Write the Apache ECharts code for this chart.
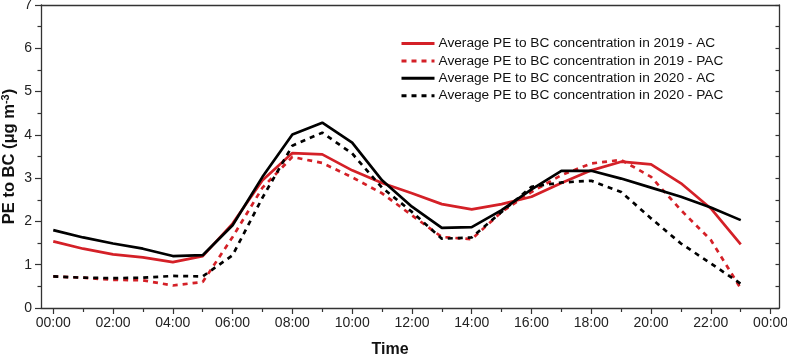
<!DOCTYPE html>
<html>
<head>
<meta charset="utf-8">
<script src="https://cdn.jsdelivr.net/npm/echarts@6/dist/echarts.min.js"></script>
<style>
  html, body { margin: 0; padding: 0; background: #fff; }
  #chart { width: 787px; height: 355px; }
</style>
</head>
<body>
<div id="chart"></div>
<script>
// hours of the day (00:00 .. 23:00)
const hours = [0, 1, 2, 3, 4, 5, 6, 7, 8, 9, 10, 11, 12, 13, 14, 15, 16, 17, 18, 19, 20, 21, 22, 23]
const majorTicks = [0, 2, 4, 6, 8, 10, 12, 14, 16, 18, 20, 22, 24]
const minorTicks = [1, 3, 5, 7, 9, 11, 13, 15, 17, 19, 21, 23]

const ac2019 = [1.54, 1.37, 1.24, 1.17, 1.06, 1.20, 1.95, 2.95, 3.58, 3.55, 3.18, 2.89, 2.65, 2.40, 2.28, 2.40, 2.57, 2.89, 3.18, 3.38, 3.32, 2.88, 2.30, 1.47]
const pac2019 = [0.73, 0.70, 0.65, 0.64, 0.52, 0.60, 1.64, 2.78, 3.49, 3.35, 3.02, 2.65, 2.14, 1.64, 1.59, 2.22, 2.68, 3.07, 3.34, 3.42, 3.03, 2.26, 1.57, 0.45]
const ac2020 = [1.80, 1.63, 1.49, 1.37, 1.20, 1.22, 1.91, 3.03, 4.01, 4.28, 3.82, 2.95, 2.34, 1.85, 1.87, 2.26, 2.74, 3.17, 3.17, 2.99, 2.78, 2.57, 2.32, 2.03]
const pac2020 = [0.73, 0.70, 0.69, 0.70, 0.74, 0.73, 1.22, 2.55, 3.75, 4.05, 3.57, 2.78, 2.22, 1.60, 1.63, 2.22, 2.80, 2.90, 2.94, 2.68, 2.07, 1.49, 1.03, 0.56]

const names = [
  "Average PE to BC concentration in 2019 - AC",
  "Average PE to BC concentration in 2019 - PAC",
  "Average PE to BC concentration in 2020 - AC",
  "Average PE to BC concentration in 2020 - PAC",
]

const RED = "#d42027"
const AXIS = "#333"
const FONT = "Liberation Sans"
const X_MIN = -0.41
const X_MAX = 24.28

const pairs = (vals) => hours.map((h, i) => [h, vals[i]])

const makeSeries = (name, vals, color, dashed) => ({
  name,
  type: "line",
  data: pairs(vals),
  symbol: "none",
  showSymbol: false,
  xAxisIndex: 0,
  yAxisIndex: 0,
  lineStyle: {
    color,
    width: 2.7,
    type: dashed ? [5, 5] : "solid",
  },
  itemStyle: { color },
})

const chart = echarts.init(document.getElementById("chart"))

const option = {
  backgroundColor: "#fff",
  animation: false,
  textStyle: { fontFamily: FONT },
  legend: {
    orient: "vertical",
    left: 395,
    top: 30,
    itemWidth: 33,
    itemHeight: 10,
    itemGap: 0.4,
    data: names,
    itemStyle: { opacity: 0 },
    lineStyle: { width: 3 },
    textStyle: { fontSize: 13.7, color: "#111", fontFamily: FONT, lineHeight: 17, padding: [0, 0, 0, -1] },
  },
  grid: {
    left: 41,
    right: 8,
    top: 5,
    bottom: 47,
    containLabel: false,
    outerBoundsMode: "none",
  },
  xAxis: [
    {
      type: "value",
      position: "bottom",
      min: X_MIN,
      max: X_MAX,
      name: "Time",
      nameLocation: "middle",
      nameGap: 34,
      nameMoveOverlap: false,
      nameTextStyle: { fontSize: 16, fontWeight: "bold", color: "#111", padding: [0, 40, 0, 0] },
      axisLine: { show: true, onZero: false, lineStyle: { color: AXIS, width: 1.3 } },
      axisTick: { show: true, length: 6, lineStyle: { color: AXIS, width: 1.2 }, customValues: majorTicks },
      axisLabel: {
        fontSize: 14,
        color: "#222",
        margin: 8,
        customValues: majorTicks,
        formatter: (v) => String(v % 24).padStart(2, "0") + ":00",
      },
      splitLine: { show: false },
    },
    {
      type: "value",
      position: "bottom",
      min: X_MIN,
      max: X_MAX,
      axisLine: { show: false, onZero: false },
      axisTick: { show: true, length: 4, lineStyle: { color: AXIS, width: 1.2 }, customValues: minorTicks },
      axisLabel: { show: false, customValues: minorTicks },
      splitLine: { show: false },
    },
    {
      type: "value",
      position: "top",
      min: X_MIN,
      max: X_MAX,
      axisLine: { show: true, onZero: false, lineStyle: { color: AXIS, width: 1.3 } },
      axisTick: { show: false },
      axisLabel: { show: false },
      splitLine: { show: false },
    },
  ],
  yAxis: [
    {
      type: "value",
      position: "left",
      min: 0,
      max: 7,
      interval: 1,
      name: "{a|PE to BC (μg m}{s|-3}{a|)}",
      nameLocation: "middle",
      nameGap: 22,
      nameMoveOverlap: false,
      nameTextStyle: {
        rich: {
          a: { fontSize: 16.5, fontWeight: "bold", color: "#111", fontFamily: FONT },
          s: { fontSize: 11, fontWeight: "bold", color: "#111", fontFamily: FONT, verticalAlign: "top", padding: [0, 0, 8, 0] },
        },
      },
      axisLine: { show: true, onZero: false, lineStyle: { color: AXIS, width: 1.3 } },
      axisTick: { show: true, length: 6, lineStyle: { color: AXIS, width: 1.2 } },
      minorTick: { show: true, splitNumber: 2, length: 3.5, lineStyle: { color: AXIS, width: 1.2 } },
      axisLabel: { fontSize: 14, color: "#222", margin: 9 },
      splitLine: { show: false },
      minorSplitLine: { show: false },
    },
    {
      type: "value",
      position: "right",
      min: 0,
      max: 7,
      interval: 0.5,
      axisLine: { show: true, onZero: false, lineStyle: { color: AXIS, width: 1.3 } },
      axisTick: { show: true, inside: true, length: 3.5, lineStyle: { color: AXIS, width: 1.2 } },
      axisLabel: { show: false },
      splitLine: { show: false },
    },
  ],
  series: [
    makeSeries(names[0], ac2019, RED, false),
    makeSeries(names[1], pac2019, RED, true),
    makeSeries(names[2], ac2020, "#000", false),
    makeSeries(names[3], pac2020, "#000", true),
  ],
}

chart.setOption(option)
</script>
</body>
</html>
